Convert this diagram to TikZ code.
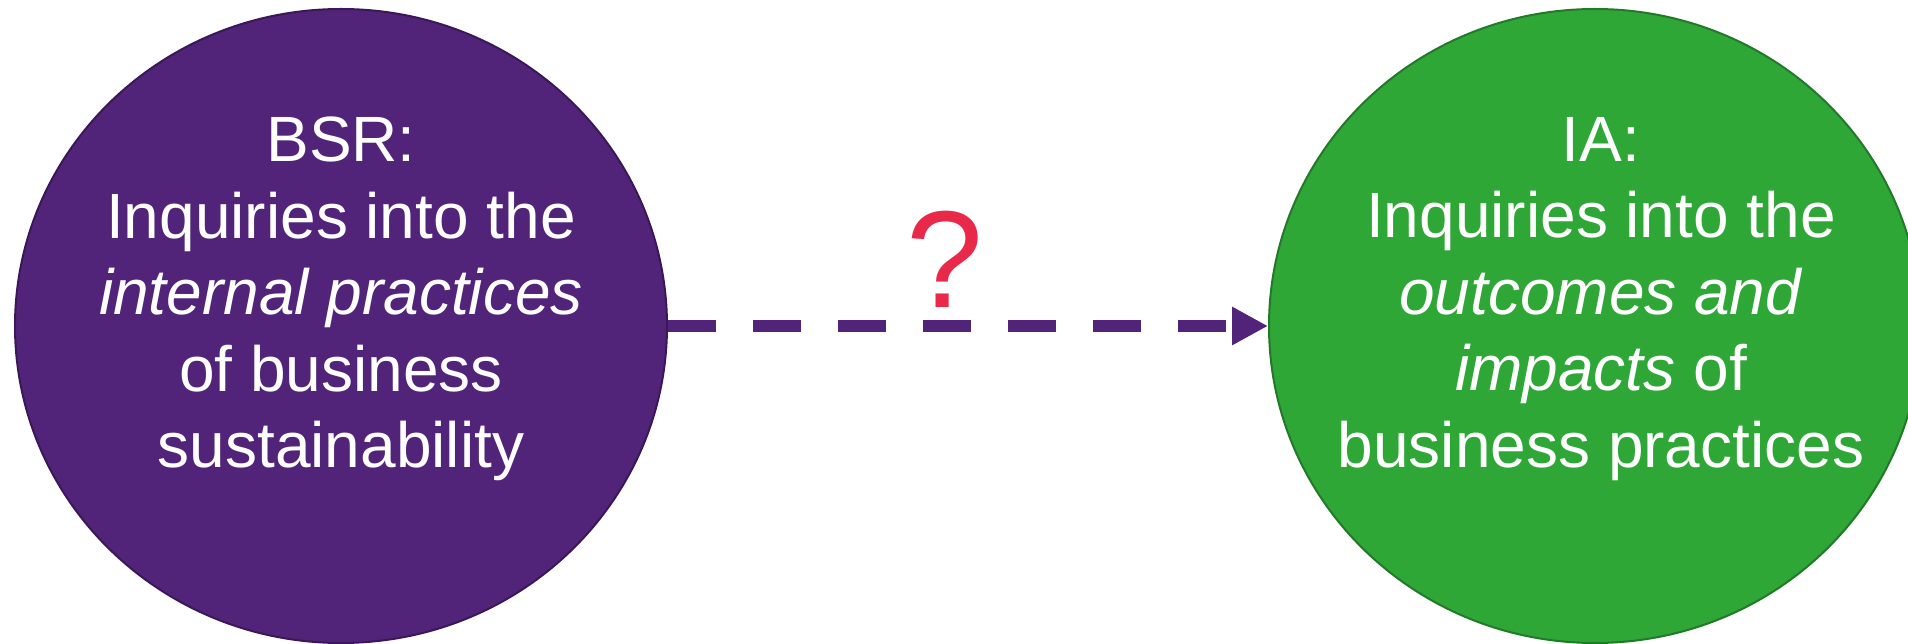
\documentclass[tikz,border=0pt]{standalone}
\usepackage{fontspec}
\setmainfont{Liberation Sans}
\usetikzlibrary{shapes.geometric,arrows.meta}
\definecolor{bsrpurple}{HTML}{51247A}
\definecolor{bsrborder}{HTML}{3A1858}
\definecolor{iagreen}{HTML}{2EA737}
\definecolor{iaborder}{HTML}{22792A}
\definecolor{qred}{HTML}{E8294A}
\begin{document}
\begin{tikzpicture}[x=1pt,y=1pt,
  blob/.style={ellipse, minimum width=652pt, minimum height=634pt, inner sep=0pt, line width=2pt},
  txt/.style={text=white, align=center, inner sep=0pt, font=\fontsize{64}{76.5}\selectfont, anchor=north},
  link/.style={draw=bsrpurple, line width=12pt, dash pattern=on 48pt off 37pt, -{Triangle[length=36pt,width=36pt]}},
  qstyle/.style={text=qred, inner sep=0pt, font=\fontsize{138}{160}\selectfont, anchor=base}]
\useasboundingbox (0,0) rectangle (1908,643);
\node[blob, fill=bsrpurple, draw=bsrborder] (bsr) at (341,317) {};
\node[blob, fill=iagreen, draw=iaborder] (ia) at (1595,317) {};
\node[txt] (bsrtext) at (341,526) {BSR:\\Inquiries into the\\\textit{internal practices}\\of business\\sustainability};
\node[txt] (iatext) at (1601,526) {IA:\\Inquiries into the\\\textit{outcomes and}\\\textit{impacts} of\\business practices};
\draw[link] (bsr.east) -- (ia.west);
\node[qstyle] (qmark) at (945,335) {?};
\end{tikzpicture}
\end{document}
